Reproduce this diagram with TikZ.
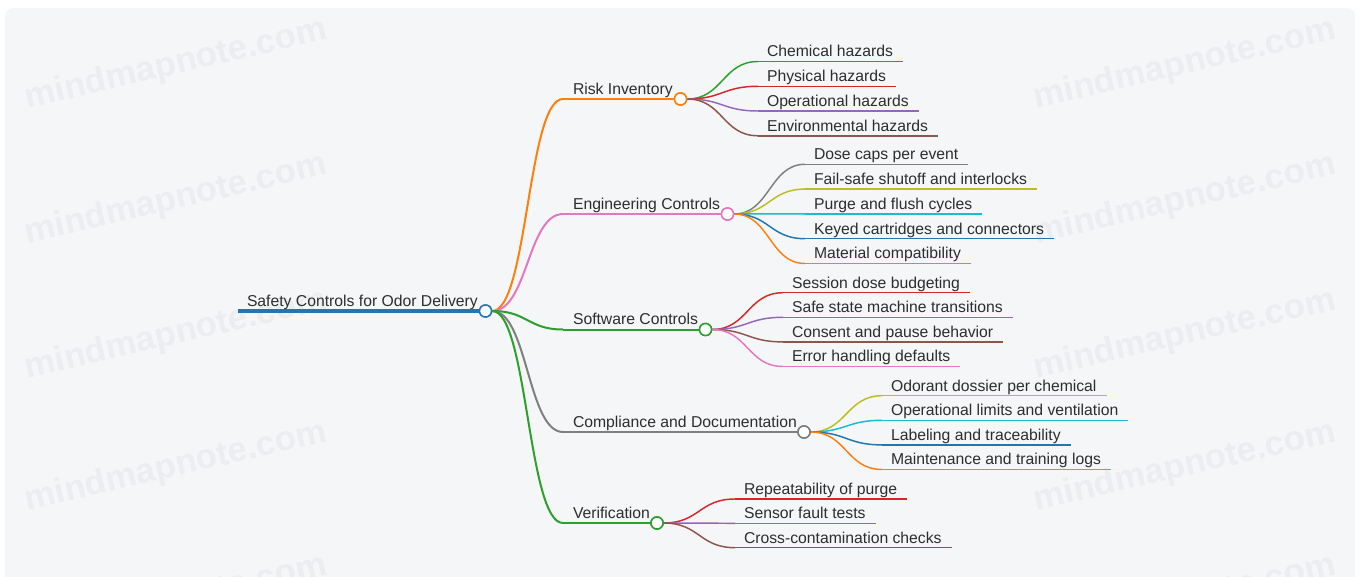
\documentclass[tikz,border=0pt]{standalone}
\usepackage{fontspec}
\setmainfont{Liberation Sans}
\usetikzlibrary{calc}
\definecolor{cblue}{HTML}{1F77B4}
\definecolor{corange}{HTML}{FF7F0E}
\definecolor{cgreen}{HTML}{2CA02C}
\definecolor{cred}{HTML}{D62728}
\definecolor{cpurple}{HTML}{9467BD}
\definecolor{cbrown}{HTML}{8C564B}
\definecolor{cpink}{HTML}{E377C2}
\definecolor{cgray}{HTML}{7F7F7F}
\definecolor{colive}{HTML}{BCBD22}
\definecolor{ccyan}{HTML}{17BECF}
\definecolor{bgc}{RGB}{245,246,248}
\definecolor{wmc}{RGB}{236,237,240}
\definecolor{txtc}{RGB}{45,45,45}
\newcommand\mmfont{\fontsize{11.8pt}{14pt}\selectfont}
\tikzset{
  txt/.style={anchor=base west, inner sep=0pt, outer sep=0pt, font=\mmfont, text=txtc},
  dotnode/.style={circle, draw=#1, fill=white, line width=1.1pt, minimum size=9pt, inner sep=0pt},
  wm/.style={font=\fontsize{26pt}{30pt}\selectfont\bfseries, text=wmc, rotate=13, inner sep=0pt},
  lvone/.style={line width=1.5pt},
  lvtwo/.style={line width=1.1pt},
}
% link macro: style, from, to
\newcommand\mmlink[3]{%
  \coordinate (ta) at (#2);
  \coordinate (tb) at (#3);
  \coordinate (tm) at ($(ta)!0.5!(tb)$);
  \draw[#1] (ta) .. controls (tm |- ta) and (tm |- tb) .. (tb);
}
% leaf: name, color, parent dot, line start x, line y, text
\newcommand\mmleaf[6]{%
  \coordinate (#1-s) at (#4,#5);
  \node[txt] (#1) at (#4+9,#5-4.6) {#6};
  \coordinate (#1-e) at ([xshift=7.5pt]#1.base east);
  \mmlink{#2,lvtwo}{#3.east}{#1-s}
  \draw[#2,lvtwo] (#1-s) -- (#1-s -| #1-e);
}
% level one: name, color, line start x, line y, dot x, text
\newcommand\mmone[6]{%
  \coordinate (#1-s) at (#3,#4);
  \node[txt] (#1) at (#3+10,#4-4.6) {#6};
  \node[dotnode=#2] (#1-d) at (#5,#4) {};
  \mmlink{#2,lvone}{root-d.east}{#1-s}
  \draw[#2,lvone] (#1-s) -- (#1-d.center);
  \node[dotnode=#2] at (#1-d) {};
}
\begin{document}
\begin{tikzpicture}[x=0.75pt,y=-0.75pt]
\useasboundingbox (0,0) rectangle (1359,577);
\clip (0,0) rectangle (1359,577);
\fill[bgc, rounded corners=6pt] (5,8) rectangle (1355,600);
% watermarks
\foreach \wy in {65,200,335,467,600}{
  \node[wm] at (176,\wy) {mindmapnote.com};
  \node[wm] at (1185,\wy) {mindmapnote.com};
}
% root
\node[dotnode=cblue] (root-d) at (485.5,311) {};
\coordinate (root-s) at (238,311);
\node[txt] (root) at (247,306) {Safety Controls for Odor Delivery};
% level one
\mmone{risk}{corange}{563}{99}{680.5}{Risk Inventory}
\mmone{eng}{cpink}{563}{214}{727.5}{Engineering Controls}
\mmone{soft}{cgreen}{563}{329.5}{705.5}{Software Controls}
\mmone{comp}{cgray}{563}{432}{804}{Compliance and Documentation}
\mmone{ver}{cgreen}{563}{523}{657}{Verification}
% root underline drawn over the links' origin
\draw[cblue, line width=3pt] (root-s) -- (root-d.center);
\node[dotnode=cblue] at (root-d) {};
% leaves: risk
\mmleaf{r1}{cgreen}{risk-d}{758}{61.5}{Chemical hazards}
\mmleaf{r2}{cred}{risk-d}{758}{86.3}{Physical hazards}
\mmleaf{r3}{cpurple}{risk-d}{758}{111}{Operational hazards}
\mmleaf{r4}{cbrown}{risk-d}{758}{135.8}{Environmental hazards}
% leaves: engineering
\mmleaf{e1}{cgray}{eng-d}{805}{164.3}{Dose caps per event}
\mmleaf{e2}{colive}{eng-d}{805}{189.1}{Fail-safe shutoff and interlocks}
\mmleaf{e3}{ccyan}{eng-d}{805}{213.9}{Purge and flush cycles}
\mmleaf{e4}{cblue}{eng-d}{805}{238.7}{Keyed cartridges and connectors}
\mmleaf{e5}{corange}{eng-d}{805}{263.5}{Material compatibility}
% leaves: software
\mmleaf{s1}{cred}{soft-d}{783}{292.7}{Session dose budgeting}
\mmleaf{s2}{cpurple}{soft-d}{783}{317.3}{Safe state machine transitions}
\mmleaf{s3}{cbrown}{soft-d}{783}{341.9}{Consent and pause behavior}
\mmleaf{s4}{cpink}{soft-d}{783}{366.5}{Error handling defaults}
% leaves: compliance
\mmleaf{c1}{colive}{comp-d}{882}{395.7}{Odorant dossier per chemical}
\mmleaf{c2}{ccyan}{comp-d}{882}{420.3}{Operational limits and ventilation}
\mmleaf{c3}{cblue}{comp-d}{882}{444.9}{Labeling and traceability}
\mmleaf{c4}{corange}{comp-d}{882}{469.5}{Maintenance and training logs}
% leaves: verification
\mmleaf{v1}{cred}{ver-d}{735}{499}{Repeatability of purge}
\mmleaf{v2}{cpurple}{ver-d}{735}{523.3}{Sensor fault tests}
\mmleaf{v3}{cbrown}{ver-d}{735}{547.7}{Cross-contamination checks}
% redraw level-one dots on top of leaf links
\foreach \n/\c in {risk/corange,eng/cpink,soft/cgreen,comp/cgray,ver/cgreen}{
  \node[dotnode=\c] at (\n-d) {};
}
\end{tikzpicture}
\end{document}
